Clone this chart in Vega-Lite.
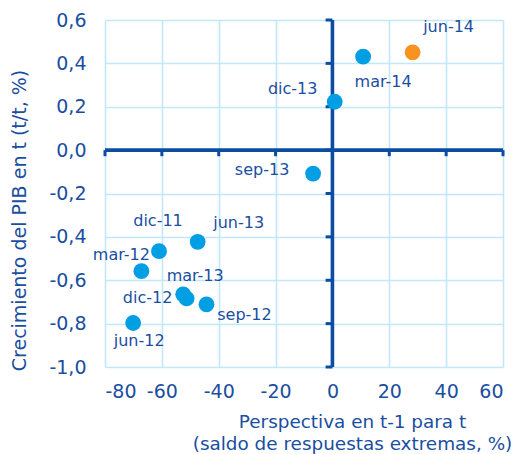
{
  "$schema": "https://vega.github.io/schema/vega-lite/v6.json",
  "width": 398,
  "height": 347,
  "autosize": {"type": "none"},
  "padding": {"left": 105, "top": 20, "right": 13, "bottom": 87},
  "background": "white",
  "config": {
    "view": {"stroke": null},
    "font": "DejaVu Sans",
    "locale": {"number": {"decimal": ",", "thousands": ".", "grouping": [3], "currency": ["", " €"], "minus": "-"}}
  },
  "datasets": {
    "pts": [
      {"label": "dic-11", "x": -61.0, "y": -0.466, "serie": "hist"},
      {"label": "mar-12", "x": -67.2, "y": -0.558, "serie": "hist"},
      {"label": "jun-12", "x": -70.1, "y": -0.797, "serie": "hist"},
      {"label": "sep-12", "x": -44.3, "y": -0.711, "serie": "hist"},
      {"label": "dic-12", "x": -51.3, "y": -0.684, "serie": "hist"},
      {"label": "mar-13", "x": -52.5, "y": -0.665, "serie": "hist"},
      {"label": "jun-13", "x": -47.4, "y": -0.423, "serie": "hist"},
      {"label": "sep-13", "x": -6.8, "y": -0.108, "serie": "hist"},
      {"label": "dic-13", "x": 0.8, "y": 0.223, "serie": "hist"},
      {"label": "mar-14", "x": 10.8, "y": 0.431, "serie": "hist"},
      {"label": "jun-14", "x": 28.2, "y": 0.451, "serie": "ultimo"}
    ],
    "xticks": [{"v": -80}, {"v": -60}, {"v": -40}, {"v": -20}, {"v": 0}, {"v": 20}, {"v": 40}, {"v": 60}],
    "yticks": [{"v": -1.0}, {"v": -0.8}, {"v": -0.6}, {"v": -0.4}, {"v": -0.2}, {"v": 0.0}, {"v": 0.2}, {"v": 0.4}, {"v": 0.6}]
  },
  "layer": [
    {
      "data": {"name": "pts"},
      "encoding": {
        "x": {
          "field": "x", "type": "quantitative",
          "scale": {"domain": [-80, 60], "nice": false, "zero": false},
          "axis": {
            "values": [-80, -60, -40, -20, 0, 20, 40, 60],
            "format": "d",
            "grid": true, "gridColor": "#C2E7F8", "gridWidth": 1.6,
            "domain": false, "ticks": false, "tickSize": 0,
            "labelFontSize": 19, "labelColor": "#1A4E9F", "labelPadding": 15,
            "labelFont": "DejaVu Sans",
            "title": ["Perspectiva en t-1 para t", "(saldo de respuestas extremas, %)"],
            "titleFontSize": 18.4, "titleFontWeight": "normal", "titleColor": "#1A4E9F",
            "titleFont": "DejaVu Sans",
            "titleX": 247, "titleY": 60, "titleAlign": "center", "titleBaseline": "alphabetic",
            "titleLineHeight": 22
          }
        },
        "y": {
          "field": "y", "type": "quantitative",
          "scale": {"domain": [-1, 0.6], "nice": false, "zero": false},
          "axis": {
            "values": [-1, -0.8, -0.6, -0.4, -0.2, 0, 0.2, 0.4, 0.6],
            "format": ".1f",
            "grid": true, "gridColor": "#C2E7F8", "gridWidth": 1.6,
            "domain": false, "ticks": false, "tickSize": 0,
            "labelFontSize": 19, "labelColor": "#1A4E9F", "labelPadding": 19,
            "labelFont": "DejaVu Sans",
            "title": "Crecimiento del PIB en t (t/t, %)",
            "titleFontSize": 19, "titleFontWeight": "normal", "titleColor": "#1A4E9F",
            "titleFont": "DejaVu Sans",
            "titleAngle": 270, "titleX": -80, "titleY": 200, "titleAlign": "center", "titleBaseline": "alphabetic"
          }
        }
      },
      "layer": [
        {"mark": {"type": "point", "opacity": 0}}
      ]
    },
    {
      "data": {"values": [{}]},
      "mark": {"type": "rule", "color": "#0B4DA2", "strokeWidth": 3.6},
      "encoding": {"x": {"datum": 0, "type": "quantitative"}}
    },
    {
      "data": {"values": [{}]},
      "mark": {"type": "rule", "color": "#0B4DA2", "strokeWidth": 3.6},
      "encoding": {"y": {"datum": 0, "type": "quantitative"}}
    },
    {
      "data": {"name": "xticks"},
      "mark": {"type": "rule", "color": "#0B4DA2", "strokeWidth": 3},
      "encoding": {
        "x": {"field": "v", "type": "quantitative"},
        "y": {"datum": 0, "type": "quantitative"},
        "y2": {"datum": -0.028}
      }
    },
    {
      "data": {"name": "yticks"},
      "mark": {"type": "rule", "color": "#0B4DA2", "strokeWidth": 3},
      "encoding": {
        "y": {"field": "v", "type": "quantitative"},
        "x": {"datum": 0, "type": "quantitative"},
        "x2": {"datum": -2.4}
      }
    },
    {
      "data": {"name": "pts"},
      "encoding": {
        "x": {"field": "x", "type": "quantitative"},
        "y": {"field": "y", "type": "quantitative"},
        "text": {"field": "label", "type": "nominal"}
      },
      "layer": [
        {
          "mark": {"type": "circle", "size": 250, "opacity": 1},
          "encoding": {
            "color": {
              "field": "serie", "type": "nominal",
              "scale": {"domain": ["hist", "ultimo"], "range": ["#009EE2", "#F7931E"]},
              "legend": null
            }
          }
        },
        {"transform": [{"filter": "datum.label === 'jun-14'"}], "mark": {"type": "text", "dx": 36, "dy": -25, "fontSize": 16, "color": "#1A4E9F", "align": "center", "baseline": "middle"}},
        {"transform": [{"filter": "datum.label === 'mar-14'"}], "mark": {"type": "text", "dx": 20, "dy": 25, "fontSize": 16, "color": "#1A4E9F", "align": "center", "baseline": "middle"}},
        {"transform": [{"filter": "datum.label === 'dic-13'"}], "mark": {"type": "text", "dx": -42, "dy": -13, "fontSize": 16, "color": "#1A4E9F", "align": "center", "baseline": "middle"}},
        {"transform": [{"filter": "datum.label === 'sep-13'"}], "mark": {"type": "text", "dx": -51, "dy": -4, "fontSize": 16, "color": "#1A4E9F", "align": "center", "baseline": "middle"}},
        {"transform": [{"filter": "datum.label === 'jun-13'"}], "mark": {"type": "text", "dx": 41, "dy": -19, "fontSize": 16, "color": "#1A4E9F", "align": "center", "baseline": "middle"}},
        {"transform": [{"filter": "datum.label === 'dic-11'"}], "mark": {"type": "text", "dx": -1, "dy": -30, "fontSize": 16, "color": "#1A4E9F", "align": "center", "baseline": "middle"}},
        {"transform": [{"filter": "datum.label === 'mar-12'"}], "mark": {"type": "text", "dx": -20, "dy": -16, "fontSize": 16, "color": "#1A4E9F", "align": "center", "baseline": "middle"}},
        {"transform": [{"filter": "datum.label === 'mar-13'"}], "mark": {"type": "text", "dx": 12, "dy": -18, "fontSize": 16, "color": "#1A4E9F", "align": "center", "baseline": "middle"}},
        {"transform": [{"filter": "datum.label === 'dic-12'"}], "mark": {"type": "text", "dx": -39, "dy": 0, "fontSize": 16, "color": "#1A4E9F", "align": "center", "baseline": "middle"}},
        {"transform": [{"filter": "datum.label === 'sep-12'"}], "mark": {"type": "text", "dx": 38, "dy": 11, "fontSize": 16, "color": "#1A4E9F", "align": "center", "baseline": "middle"}},
        {"transform": [{"filter": "datum.label === 'jun-12'"}], "mark": {"type": "text", "dx": 6, "dy": 18, "fontSize": 16, "color": "#1A4E9F", "align": "center", "baseline": "middle"}}
      ]
    }
  ]
}
